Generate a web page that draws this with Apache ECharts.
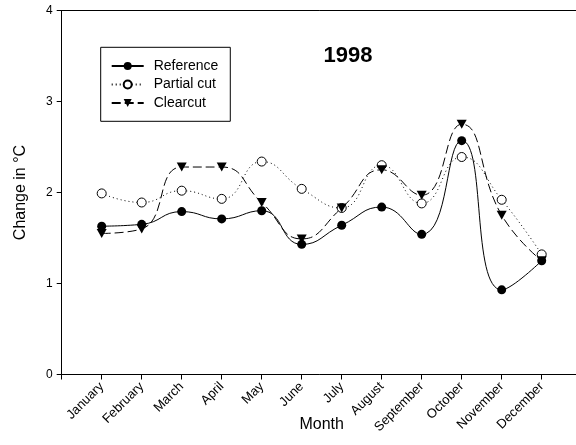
<!DOCTYPE html>
<html>
<head>
<meta charset="utf-8">
<script src="https://cdn.jsdelivr.net/npm/echarts@6/dist/echarts.min.js"></script>
<style>
  html, body { margin: 0; padding: 0; background: #fff; }
  #chart { width: 576px; height: 445px; }
</style>
</head>
<body>
<div id="chart"></div>
<script>
// Monthly temperature change by treatment, 1998
const months = ['January', 'February', 'March', 'April', 'May', 'June',
  'July', 'August', 'September', 'October', 'November', 'December'];
const reference  = [1.63, 1.65, 1.79, 1.71, 1.80, 1.43, 1.64, 1.84, 1.54, 2.57, 0.93, 1.25];
const partialCut = [1.99, 1.89, 2.02, 1.93, 2.34, 2.04, 1.83, 2.30, 1.88, 2.39, 1.92, 1.32];
const clearcut   = [1.55, 1.60, 2.28, 2.28, 1.89, 1.49, 1.83, 2.25, 1.97, 2.75, 1.75, 1.25];
const yTicks = [0, 1, 2, 3, 4];

const FONT = 'Liberation Sans, Arial, sans-serif';
const toPairs = arr => arr.map((v, i) => [i + 1, v]);
const triangleDown = 'path://M0,0 L10,0 L5,9 Z';

const chart = echarts.init(document.getElementById('chart'), null, { renderer: 'canvas' });

chart.setOption({
  animation: false,
  backgroundColor: '#fff',
  textStyle: { fontFamily: FONT, color: '#000' },
  title: {
    text: '1998',
    left: 343, top: 40, textAlign: 'center',
    textStyle: { fontFamily: FONT, fontSize: 22, fontWeight: 'bold', color: '#000' }
  },
  legend: {
    left: 100.7, top: 47.3,
    orient: 'vertical',
    itemWidth: 32, itemHeight: 10, itemGap: 4.5,
    padding: [11.7, 12, 11.3, 10],
    borderColor: '#000', borderWidth: 1,
    textStyle: { fontFamily: FONT, fontSize: 14, color: '#000', lineHeight: 14, padding: [0, 0, 0, 5] },
    data: ['Reference', 'Partial cut', 'Clearcut']
  },
  grid: { left: 61.7, top: 10.5, width: 520, height: 364, outerBoundsMode: 'none', containLabel: false },
  xAxis: [{
    type: 'value', min: 0, max: 13, interval: 1,
    name: 'Month', nameLocation: 'middle', nameGap: 42, nameMoveOverlap: false,
    nameTextStyle: { fontFamily: FONT, fontSize: 16, color: '#000' },
    axisLine: { show: true, lineStyle: { color: '#000', width: 1 } },
    axisTick: { show: true, length: 5, lineStyle: { color: '#000' } },
    axisLabel: {
      rotate: 45, margin: 10, fontFamily: FONT, fontSize: 13, color: '#000',
      formatter: v => months[v - 1] || ''
    },
    splitLine: { show: false }
  }, {
    type: 'value', position: 'top', min: 0, max: 13,
    axisLine: { show: true, lineStyle: { color: '#000', width: 1 } },
    axisTick: { show: false }, axisLabel: { show: false }, splitLine: { show: false }
  }],
  yAxis: {
    type: 'value', min: yTicks[0], max: yTicks[yTicks.length - 1], interval: 1,
    name: 'Change in °C', nameLocation: 'middle', nameGap: 33, nameRotate: 90, nameMoveOverlap: false,
    nameTextStyle: { fontFamily: FONT, fontSize: 16, color: '#000' },
    axisLine: { show: true, lineStyle: { color: '#000', width: 1 } },
    axisTick: { show: true, length: 5, lineStyle: { color: '#000' } },
    axisLabel: { fontFamily: FONT, fontSize: 12, color: '#000', margin: 9 },
    splitLine: { show: false }
  },
  series: [{
    name: 'Reference', type: 'line', smooth: 0.5,
    data: toPairs(reference),
    symbol: 'circle', symbolSize: 9,
    lineStyle: { color: '#000', width: 1, type: 'solid' },
    itemStyle: { color: '#000', borderColor: '#000', borderWidth: 0 }
  }, {
    name: 'Partial cut', type: 'line', smooth: 0.5,
    data: toPairs(partialCut),
    symbol: 'circle', symbolSize: 9,
    lineStyle: { color: '#000', width: 1, type: [1, 3] },
    itemStyle: { color: '#fff', borderColor: '#000', borderWidth: 1 }
  }, {
    name: 'Clearcut', type: 'line', smooth: 0.5,
    data: toPairs(clearcut),
    symbol: triangleDown, symbolSize: [10, 9],
    lineStyle: { color: '#000', width: 1, type: [9, 4] },
    itemStyle: { color: '#000', borderColor: '#000', borderWidth: 0 }
  }]
});
</script>
</body>
</html>
